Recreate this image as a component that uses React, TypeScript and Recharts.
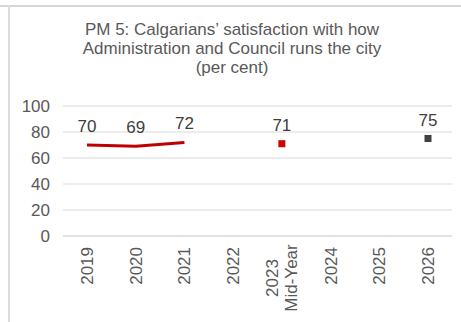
import React from 'react';
import { LineChart, Line, XAxis, YAxis, CartesianGrid, LabelList } from 'recharts';

const categories = ['2019', '2020', '2021', '2022', '2023\nMid-Year', '2024', '2025', '2026'];
const actual = [70, 69, 72, null, null, null, null, null];
const midYear = [null, null, null, null, 71, null, null, null];
const target = [null, null, null, null, null, null, null, 75];
const yTicks = [0, 20, 40, 60, 80, 100];

const data = categories.map((name, i) => ({
  name,
  actual: actual[i],
  midYear: midYear[i],
  target: target[i],
}));

const FONT = '"Liberation Sans", Arial, sans-serif';
const GREY = '#595959';

const YearTick = (props: any) => {
  const { x, y, payload } = props;
  const lines = String(payload.value).split('\n');
  if (lines.length > 1) {
    return (
      <g transform={`translate(${x},${y + 34})`}>
        <text transform="rotate(-90)" textAnchor="middle" fill={GREY} fontSize={17} fontFamily={FONT}>
          <tspan x={0} dy="-0.2em">{lines[0]}</tspan>
          <tspan x={0} dy="1.1em">{lines[1]}</tspan>
        </text>
      </g>
    );
  }
  return (
    <g transform={`translate(${x},${y + 3})`}>
      <text transform="rotate(-90)" textAnchor="end" dy="0.35em" fill={GREY} fontSize={17} fontFamily={FONT}>
        {payload.value}
      </text>
    </g>
  );
};

const squareDot = (color: string) => (props: any) => {
  const { cx, cy, value } = props;
  if (value == null || cx == null || cy == null) return <g key={props.key} />;
  return <rect key={props.key} x={cx - 3.5} y={cy - 3.5} width={7} height={7} fill={color} />;
};

export default function App() {
  return (
    <div style={{ position: 'absolute', left: 0, top: 0, width: 461, height: 322, background: '#fff', fontFamily: FONT }}>
      <div style={{ position: 'absolute', left: 0, top: 5, width: 461, height: 2, background: '#d6d6d6' }} />
      <div style={{ position: 'absolute', left: 8, top: 5, width: 2, height: 317, background: '#dcdcdc' }} />
      <div
        style={{
          position: 'absolute',
          left: 30,
          top: 20,
          width: 404,
          textAlign: 'center',
          fontSize: 17,
          lineHeight: '19px',
          color: GREY,
        }}
      >
        PM 5: Calgarians’ satisfaction with how
        <br />
        Administration and Council runs the city
        <br />
        (per cent)
      </div>
      <LineChart width={461} height={322} data={data} margin={{ top: 106, right: 9, bottom: 0, left: 0 }}>
        <CartesianGrid vertical={false} stroke="#d9d9d9" />
        <XAxis
          dataKey="name"
          interval={0}
          padding={{ left: 24, right: 24 }}
          axisLine={{ stroke: '#d9d9d9' }}
          tickLine={false}
          height={86}
          tick={<YearTick />}
        />
        <YAxis
          domain={[0, 100]}
          ticks={yTicks}
          width={63}
          axisLine={false}
          tickLine={false}
          tickMargin={7}
          tick={{ fill: GREY, fontSize: 17, fontFamily: FONT }}
        />
        <Line
          dataKey="actual"
          stroke="#c00000"
          strokeWidth={3}
          dot={false}
          isAnimationActive={false}
        >
          <LabelList dataKey="actual" position="top" offset={13} fill="#404040" fontSize={17} fontFamily={FONT} />
        </Line>
        <Line
          dataKey="midYear"
          stroke="none"
          dot={squareDot('#d00000')}
          isAnimationActive={false}
        >
          <LabelList dataKey="midYear" position="top" offset={13} fill="#404040" fontSize={17} fontFamily={FONT} />
        </Line>
        <Line
          dataKey="target"
          stroke="none"
          dot={squareDot('#404040')}
          isAnimationActive={false}
        >
          <LabelList dataKey="target" position="top" offset={13} fill="#404040" fontSize={17} fontFamily={FONT} />
        </Line>
      </LineChart>
    </div>
  );
}
